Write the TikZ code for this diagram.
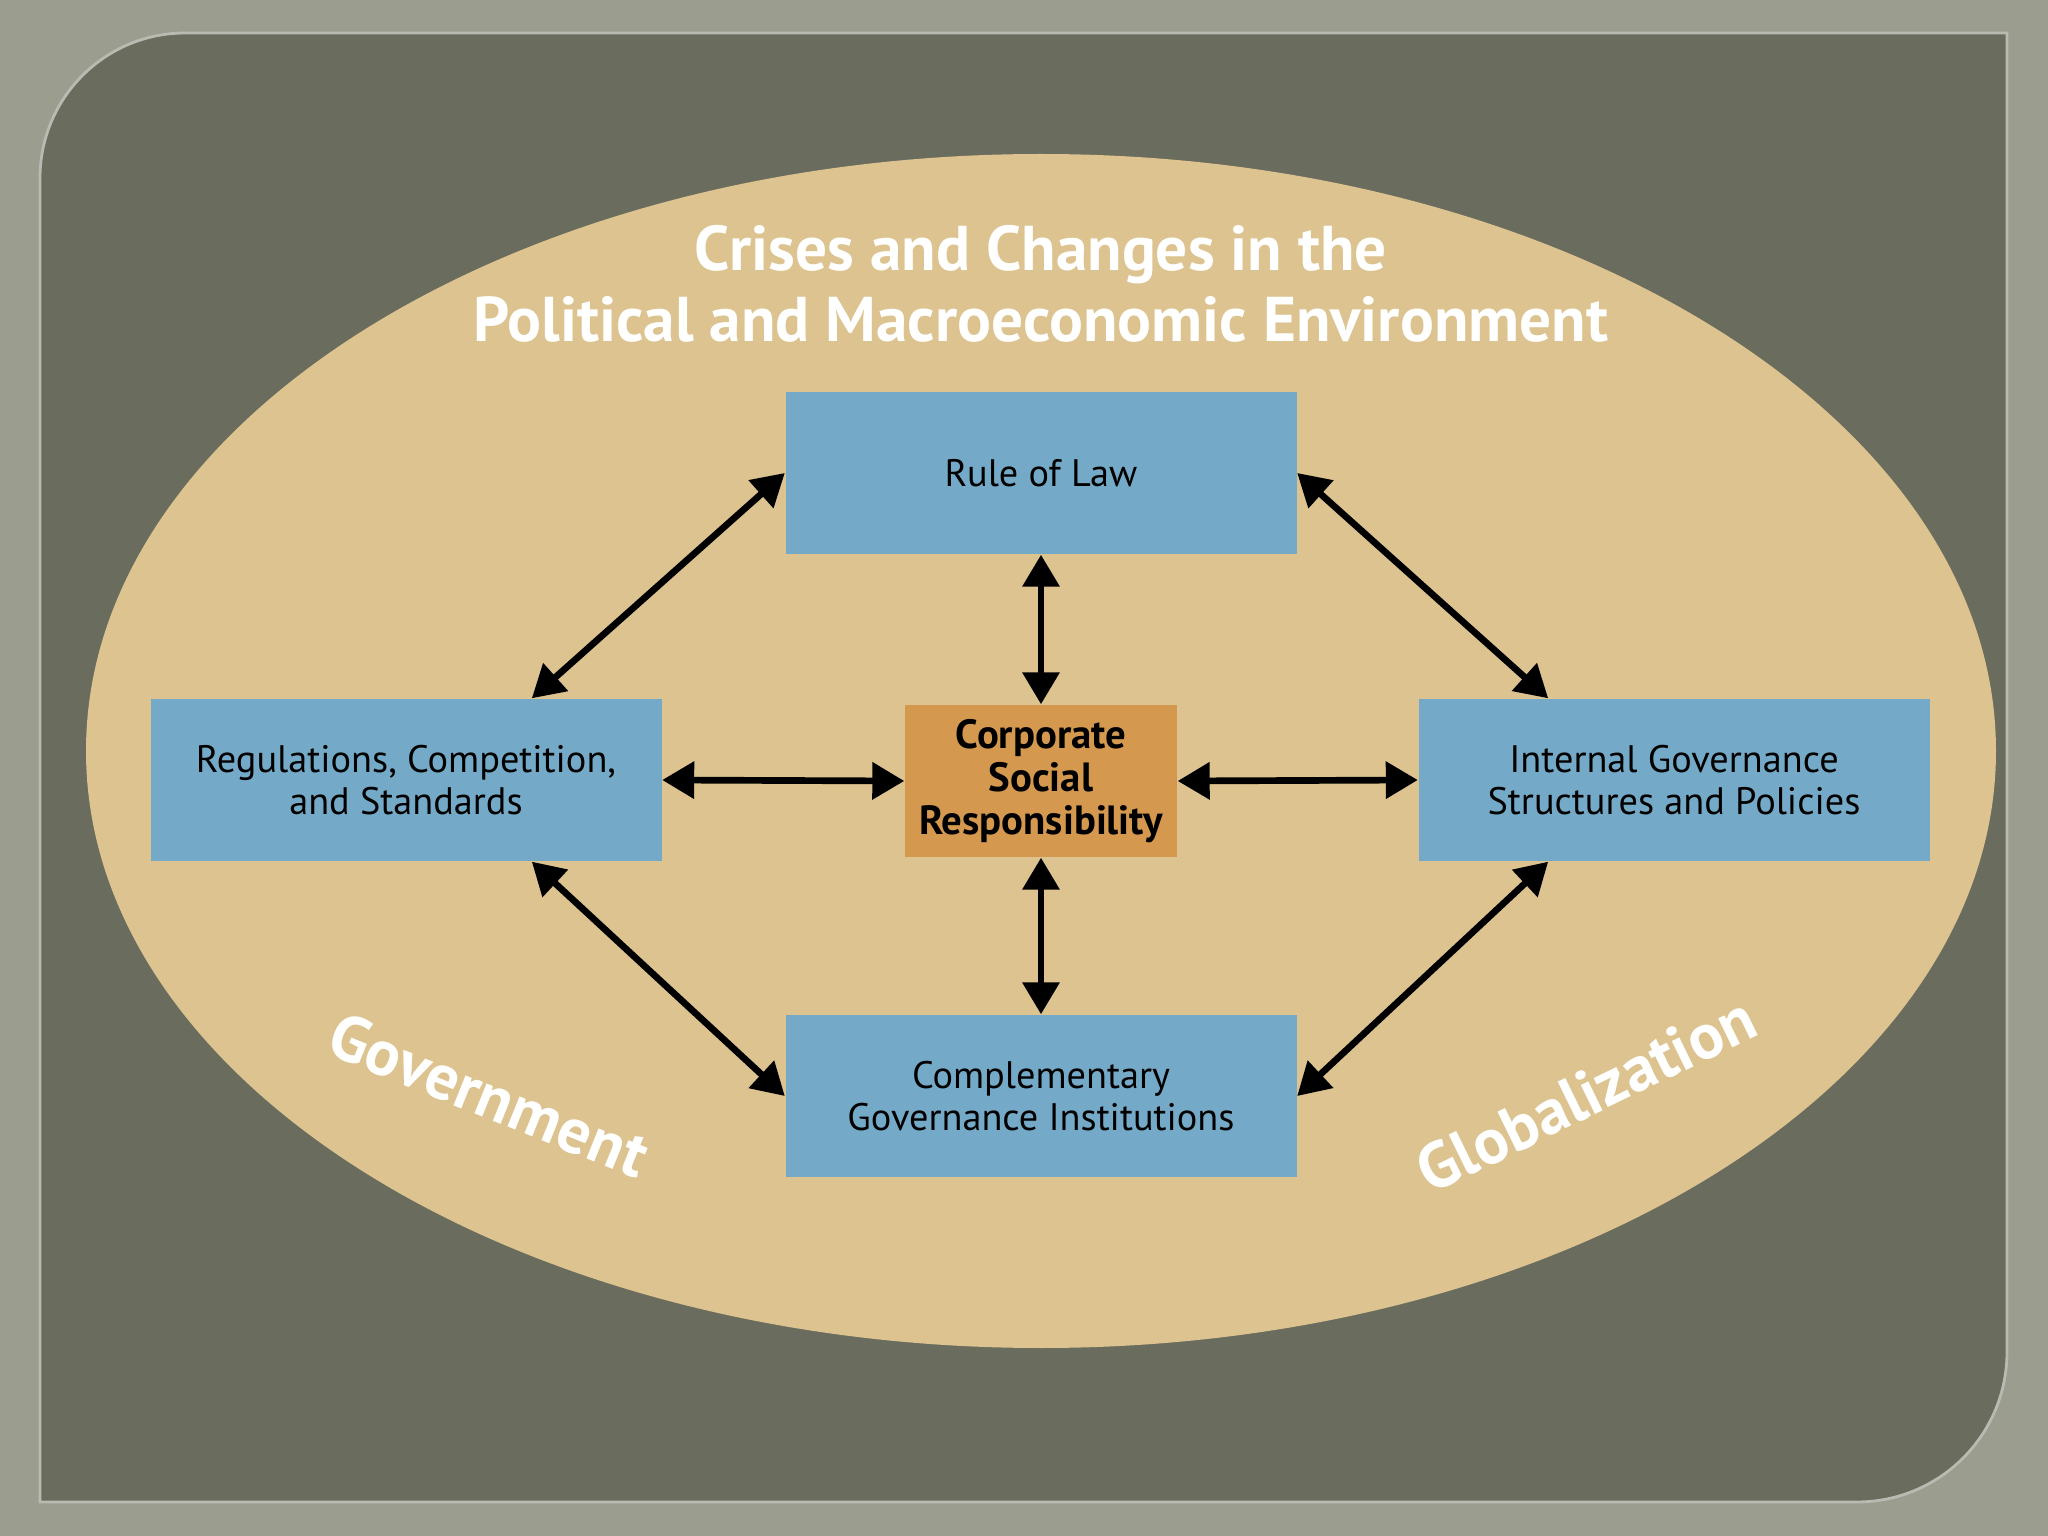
\documentclass[tikz,border=0pt]{standalone}
\usepackage{fontspec}
\setmainfont{PT Sans}
\usetikzlibrary{arrows.meta}
\definecolor{framecol}{RGB}{155,157,143}
\definecolor{slatecol}{RGB}{106,108,94}
\definecolor{ovalcol}{RGB}{220,195,143}
\definecolor{boxcol}{RGB}{116,170,200}
\definecolor{csrcol}{RGB}{212,152,78}
\tikzset{
  blk/.style={fill=boxcol,minimum width=5.11cm,minimum height=1.62cm,inner sep=0pt,align=center,font=\fontsize{10.9}{12}\selectfont},
  core/.style={fill=csrcol,minimum width=2.72cm,minimum height=1.52cm,inner sep=0pt,align=center,font=\fontsize{11.6}{12.2}\selectfont\bfseries},
  link/.style={line width=1.9pt,{Triangle[length=0.32cm,width=0.36cm]}-{Triangle[length=0.32cm,width=0.36cm]}},
  bigw/.style={text=white,font=\fontsize{18.4}{20}\selectfont\bfseries},
  ttl/.style={text=white,align=center,font=\fontsize{18}{20.4}\selectfont\bfseries},
}
\begin{document}
\begin{tikzpicture}[x=1cm,y=1cm]
  \fill[framecol] (0,0) rectangle (20.48,-15.36);
  \useasboundingbox (0,0) rectangle (20.48,-15.36);
  \filldraw[fill=slatecol,draw=framecol!70!white,line width=0.8pt]
    (0.40,-15.02) -- (0.40,-1.78) arc[start angle=180,end angle=90,radius=1.45]
    -- (20.07,-0.33) -- (20.07,-13.52) arc[start angle=0,end angle=-90,radius=1.50] -- cycle;
  \fill[ovalcol] (10.41,-7.51) ellipse[x radius=9.55,y radius=5.97];
  \node[ttl] (title) at (10.41,-2.84) {Crises and Changes in the\\Political and Macroeconomic Environment};
  \node[blk] (law) at (10.41,-4.73) {Rule of Law};
  \node[blk] (regs) at (4.06,-7.80) {Regulations, Competition,\\and Standards};
  \node[blk] (intl) at (16.74,-7.80) {Internal Governance\\Structures and Policies};
  \node[blk] (comp) at (10.41,-10.96) {Complementary\\Governance Institutions};
  \node[core] (csr) at (10.41,-7.81) {Corporate\\Social\\Responsibility};
  \node[bigw,rotate=-22] (gov) at (4.89,-10.95) {Government};
  \node[bigw,rotate=26] (glob) at (15.86,-10.94) {Globalization};
  \draw[link] (law.west) -- (regs.33);
  \draw[link] (law.east) -- (intl.147);
  \draw[link] (regs.-33) -- (comp.west);
  \draw[link] (intl.-147) -- (comp.east);
  \draw[link] (law.south) -- (csr.north);
  \draw[link] (csr.south) -- (comp.north);
  \draw[link] (regs.east) -- (csr.west);
  \draw[link] (csr.east) -- (intl.west);
\end{tikzpicture}
\end{document}
